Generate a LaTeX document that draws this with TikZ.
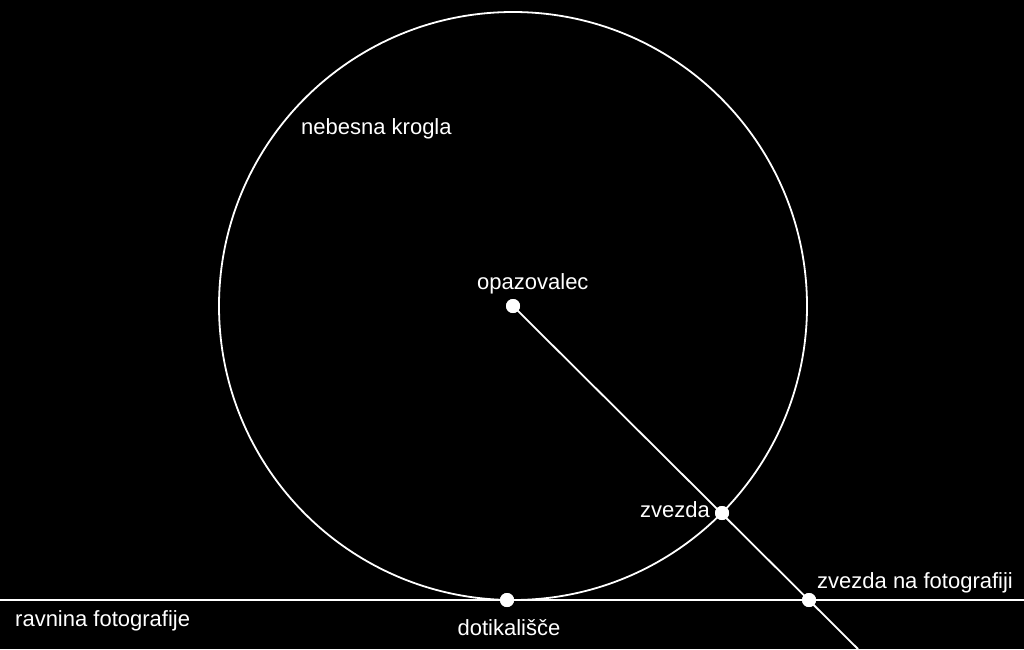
\documentclass[tikz,border=0pt]{standalone}
\usepackage{fontspec}
\setmainfont{Liberation Sans}
\begin{document}
\begin{tikzpicture}[x=1pt,y=-1pt,
  lineart/.style={draw=white,line width=1.8pt},
  dot/.style={circle,fill=white,inner sep=0pt,minimum size=14pt},
  lbl/.style={text=white,font=\fontsize{22}{26}\selectfont,inner sep=0pt}]
\fill[black] (0,0) rectangle (1024,649);
\useasboundingbox (0,0) rectangle (1024,649);
\coordinate (L) at (0,600);
\coordinate (R) at (1024,600);
\coordinate (E) at (858,649);
\node[dot] (O) at (513,306) {};
\node[dot] (Z) at (722,513) {};
\node[dot] (D) at (507,600) {};
\node[dot] (F) at (809,600) {};
\draw[lineart] (513,306) circle[radius=294];
\draw[lineart] (L) -- (R);
\draw[lineart] (O.center) -- (E);
\node[dot] at (O) {};
\node[dot] at (Z) {};
\node[dot] at (D) {};
\node[dot] at (F) {};
\node[lbl,anchor=base west] (t1) at (301,134) {nebesna krogla};
\node[lbl,anchor=base west] (t2) at (477,289) {opazovalec};
\node[lbl,anchor=base east] (t3) at (710,517) {zvezda};
\node[lbl,anchor=base west] (t4) at (817,588) {zvezda na fotografiji};
\node[lbl,anchor=base west] (t5) at (15,626) {ravnina fotografije};
\node[lbl,anchor=base] (t6) at (509,635) {dotikališče};
\end{tikzpicture}
\end{document}
